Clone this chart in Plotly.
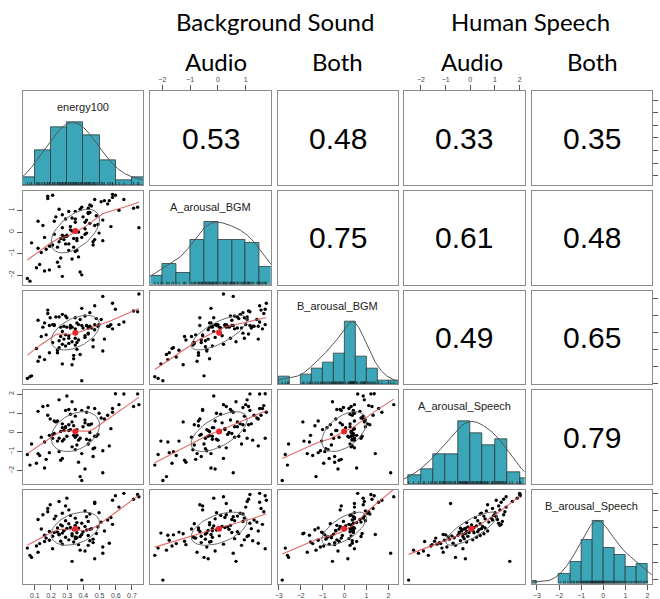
import numpy as np
import plotly.graph_objects as go

# ---------------- data ----------------
var_names = ["energy100", "A_arousal_BGM", "B_arousal_BGM", "A_arousal_Speech", "B_arousal_Speech"]

energy100 = [0.390, 0.330, 0.470, 0.080, 0.070, 0.520, 0.120, 0.410, 0.380, 0.210,
             0.054, 0.520, 0.110, 0.430, 0.370, 0.270, 0.130, 0.560, 0.460, 0.340,
             0.160, 0.260, 0.440, 0.190, 0.310, 0.460, 0.350, 0.170, 0.360, 0.290,
             0.350, 0.380, 0.210, 0.330, 0.430, 0.160, 0.250, 0.390, 0.250, 0.330,
             0.480, 0.270, 0.360, 0.220, 0.240, 0.398, 0.190, 0.530, 0.280, 0.280,
             0.420, 0.340, 0.440, 0.140, 0.450, 0.298, 0.370, 0.240, 0.320, 0.490,
             0.410, 0.270, 0.350, 0.260, 0.580, 0.310, 0.390, 0.360, 0.510, 0.430,
             0.290, 0.550, 0.120, 0.220, 0.350, 0.570, 0.420, 0.230, 0.320, 0.150,
             0.440, 0.270, 0.497, 0.180, 0.410, 0.310, 0.180, 0.620, 0.290, 0.195,
             0.470, 0.470, 0.250, 0.580, 0.710, 0.298, 0.743, 0.598, 0.735, 0.650]

A_arousal_BGM = [-1.98, 0.65, -0.35, -0.50, -2.27, 0.55, -0.75, -0.10, -1.85, 1.70,
                 -2.15, -0.40, -1.65, 0.85, -1.15, 0.20, -1.50, 1.45, -0.60, -0.30,
                 -0.25, -1.20, 1.25, -1.75, 0.95, -0.45, 0.60, -0.80, -0.85, -0.20,
                 -0.90, 1.05, -0.60, 0.05, 1.10, -1.80, -1.60, -0.25, -0.45, -1.25,
                 0.75, -2.05, -0.40, 0.50, -1.40, 0.70, -0.65, 1.45, -0.20, -0.35,
                 -0.05, -0.70, 0.40, -0.95, 1.20, -0.20, 0.00, -0.70, 0.25, 0.35,
                 0.15, -0.15, 0.45, -0.30, 1.60, -0.85, 1.15, -0.30, 1.40, 0.90,
                 0.60, 1.30, 0.50, -0.10, 0.95, 0.25, 0.55, 0.70, 0.10, 0.30,
                 0.90, 0.80, -0.05, 1.65, 0.45, -0.55, 1.55, 1.00, -0.55, -0.65,
                 0.30, 1.50, 1.05, 1.74, 1.10, -0.15, 0.20, 1.70, 1.15, 1.50]

B_arousal_BGM = [-2.84, -0.55, 0.15, -2.55, -2.60, 2.10, -1.70, -0.30, -1.30, 0.45,
                 -2.70, -1.10, -0.95, 0.25, -0.45, -0.70, -1.45, 0.35, -0.45, -1.55,
                 0.55, -0.25, 0.35, -1.20, -0.35, -0.85, 0.20, -0.15, -0.60, -0.80,
                 -0.75, 0.75, -0.60, 0.30, -0.10, -1.60, -0.90, 1.40, -0.50, -1.90,
                 0.80, -1.85, -1.00, 0.40, -1.05, 0.25, 0.40, -0.40, 0.35, -0.40,
                 0.40, -1.35, 0.30, -0.25, 0.25, 0.30, 0.45, -1.20, 0.40, 0.35,
                 -0.20, 0.05, -0.35, 0.30, 0.20, -0.65, 0.40, 0.55, 0.75, -0.05,
                 0.95, 0.35, 0.70, 0.45, 0.85, 0.45, 0.40, 0.90, 0.25, 0.30,
                 1.15, 1.05, 0.45, 1.10, 0.95, -0.20, 1.30, 0.45, -0.15, 0.85,
                 0.45, 1.55, 0.90, 1.70, 1.25, 0.85, 2.24, 1.35, 1.20, 0.60]

A_arousal_Speech = [-2.50, 1.60, -0.20, -0.60, -1.70, -2.10, -1.10, -1.90, -2.30, -0.30,
                    -1.15, -0.95, -1.60, -0.60, -1.55, -1.35, -1.20, -0.70, -1.25, -0.15,
                    -1.85, -1.45, -0.40, -1.05, 0.10, -0.85, -0.25, -1.40, -0.65, 0.25,
                    -0.90, -0.30, -0.10, -0.75, 0.40, -0.50, -1.00, -1.10, -0.30, 0.55,
                    -0.20, -0.45, 0.15, -0.05, -0.45, 0.30, -0.15, 0.70, -0.35, 0.10,
                    -0.35, 0.35, 0.00, -0.25, 0.45, -0.20, -0.40, 0.60, 0.15, -0.10,
                    0.50, 0.25, 1.20, 0.05, 1.25, 0.40, 1.15, -0.15, 0.75, 1.30,
                    0.30, 0.90, 1.10, 0.60, 0.85, 0.20, 1.05, 0.55, 0.95, 1.35,
                    0.40, 0.45, 1.00, 1.40, 0.65, 1.20, 0.90, 1.45, 1.15, 0.70,
                    -0.80, 1.25, 1.70, 1.05, 1.35, 1.90, 1.45, 2.02, 2.01, 2.00]

B_arousal_Speech = [-3.04, -1.95, -1.80, -1.72, -1.60, -1.48, -1.42, -1.35, -1.30, -1.22,
                    -1.18, -1.12, -1.06, -1.02, -0.98, -0.95, -0.92, -0.90, -0.86, -0.83,
                    -0.80, -0.78, -0.75, -0.72, -0.70, -0.66, -0.63, -0.60, -0.58, -0.55,
                    -0.53, -0.51, -0.49, -0.47, -0.45, -0.43, -0.41, -0.39, -0.37, -0.35,
                    -0.33, -0.31, -0.29, -0.27, -0.25, -0.23, -0.21, -0.19, -0.17, -0.15,
                    -0.13, -0.11, -0.09, -0.07, -0.05, -0.04, -0.02, -0.01, 0.02, 0.05,
                    0.08, 0.11, 0.14, 0.17, 0.20, 0.23, 0.26, 0.30, 0.33, 0.37,
                    0.41, 0.45, 0.48, 0.52, 0.56, 0.60, 0.64, 0.68, 0.72, 0.76,
                    0.80, 0.84, 0.88, 0.93, 0.98, 1.04, 1.12, 1.20, 1.27, 1.34,
                    1.41, 1.48, 1.53, 1.60, 1.66, 1.72, 1.80, 1.86, 1.93, 2.00]

# correlations printed in the upper triangle (row by row)
cor_upper = [[0.53, 0.48, 0.33, 0.35],
             [0.75, 0.61, 0.48],
             [0.49, 0.65],
             [0.79]]

group_titles = ["Background Sound", "Human Speech"]
condition_labels = ["Audio", "Both", "Audio", "Both"]

# ---------------- styling / layout ----------------
W, H = 660, 599
col_left = [20, 148, 276, 403, 531]
panel_w = 121
row_top = [92, 192.5, 293, 393.5, 494]
panel_h = 94.5
hist_step = [0.1, 0.5, 0.5, 0.5, 0.5]
tick_step = [0.1, 1, 1, 1, 1]

HIST_COL = "#3ba6b7"
FRAME = "#8c8c8c"
TICKC = "#555555"
SANS = "Liberation Sans, Arial, sans-serif"

data = [np.array(v, float) for v in (energy100, A_arousal_BGM, B_arousal_BGM,
                                     A_arousal_Speech, B_arousal_Speech)]
N = len(data)


def padded(v):
    lo, hi = v.min(), v.max()
    r = hi - lo
    return [lo - 0.04 * r, hi + 0.04 * r]


def hist_r(v, step):
    lo = np.floor(v.min() / step + 1e-9) * step
    hi = np.ceil(v.max() / step - 1e-9) * step
    nb = int(round((hi - lo) / step))
    edges = lo + step * np.arange(nb + 1)
    idx = np.searchsorted(edges, v, side="left") - 1
    idx = np.clip(idx, 0, nb - 1)
    counts = np.bincount(idx, minlength=nb)
    return edges, counts


def density_curve(v):
    n = len(v)
    sd = v.std(ddof=1)
    q75, q25 = np.percentile(v, [75, 25])
    bw = 1.06 * min(sd, (q75 - q25) / 1.34) * n ** -0.2 * 1.2
    grid = np.linspace(v.min() - 3 * bw, v.max() + 3 * bw, 512)
    d = np.exp(-0.5 * ((grid[:, None] - v[None, :]) / bw) ** 2).sum(1)
    return grid, d / d.max()


def lowess(x, y, f=2 / 3, it=3):
    o = np.argsort(x, kind="stable")
    x = x[o]
    y = y[o]
    n = len(x)
    r = max(int(np.ceil(f * n)), 2)
    h = np.array([np.sort(np.abs(x - x[i]))[r - 1] for i in range(n)])
    h = np.maximum(h, 1e-12)
    w = np.clip(np.abs((x[:, None] - x[None, :]) / h[:, None]), 0, 1)
    w = (1 - w ** 3) ** 3
    yest = np.zeros(n)
    delta = np.ones(n)
    for _ in range(it + 1):
        for i in range(n):
            ww = delta * w[i]
            A = np.array([[ww.sum(), (ww * x).sum()], [(ww * x).sum(), (ww * x * x).sum()]])
            b = np.array([(ww * y).sum(), (ww * y * x).sum()])
            beta = np.linalg.lstsq(A, b, rcond=None)[0]
            yest[i] = beta[0] + beta[1] * x[i]
        res = y - yest
        s = np.median(np.abs(res))
        dd = np.clip(res / (6.0 * s), -1, 1)
        delta = (1 - dd ** 2) ** 2
    return x, yest


def ellipse_pts(x, y, seg=51):
    xm, ym = x.mean(), y.mean()
    xs, ys = x.std(ddof=1), y.std(ddof=1)
    r = np.corrcoef(x, y)[0, 1]
    th = np.sign(r) / np.sqrt(2) if abs(r) > 0 else 1 / np.sqrt(2)
    ang = np.arange(seg + 1) * 2 * np.pi / seg
    uc = np.column_stack([np.cos(ang), np.sin(ang)])
    shape = np.diag([np.sqrt(1 + r), np.sqrt(1 - r)]) @ np.array([[th, th], [-th, th]])
    e = uc @ shape
    return e[:, 0] * xs + xm, e[:, 1] * ys + ym, xm, ym


def sfx(k):
    return "" if k == 1 else str(k)


fig = go.Figure()
layout_axes = {}
annotations = []

for i in range(N):
    for j in range(N):
        k = i * N + j + 1
        xa, ya = "x" + sfx(k), "y" + sfx(k)
        xr = padded(data[j])
        yr = [0, 1.5] if i == j else padded(data[i])
        x0 = col_left[j] / W
        x1 = (col_left[j] + panel_w) / W
        y1 = 1 - row_top[i] / H
        y0 = 1 - (row_top[i] + panel_h) / H
        base = dict(showgrid=False, zeroline=False, showline=True, mirror=True,
                    linecolor=FRAME, linewidth=1, ticks="", showticklabels=False,
                    fixedrange=True)
        xax = dict(base, domain=[x0, x1], range=xr, anchor=ya)
        yax = dict(base, domain=[y0, y1], range=yr, anchor=xa)
        tickstyle = dict(ticks="outside", ticklen=5, tickwidth=1, tickcolor=TICKC,
                         tickfont=dict(family=SANS, size=7, color="#444"))
        # outer axes alternate sides, as in R pairs()
        if i == 0 and j % 2 == 1:
            xax.update(tickstyle, side="top", showticklabels=True, tickmode="linear",
                       tick0=0, dtick=tick_step[j])
        if i == N - 1 and j % 2 == 0:
            xax.update(tickstyle, side="bottom", showticklabels=True, tickmode="linear",
                       tick0=0, dtick=tick_step[j])
        if j == 0 and i % 2 == 1:
            yax.update(tickstyle, side="left", showticklabels=True, tickmode="linear",
                       tick0=0, dtick=tick_step[i], tickangle=-90)
        if j == N - 1 and i % 2 == 0 and i != j:
            yax.update(tickstyle, side="right", showticklabels=False, tickmode="linear",
                       tick0=0, dtick=tick_step[i])
        layout_axes["xaxis" + sfx(k)] = xax
        layout_axes["yaxis" + sfx(k)] = yax

        if i == j:
            v = data[i]
            edges, counts = hist_r(v, hist_step[i])
            hts = counts / counts.max()
            centers = (edges[:-1] + edges[1:]) / 2
            m = counts > 0
            fig.add_trace(go.Bar(x=centers[m], y=hts[m], width=hist_step[i],
                                 marker=dict(color=HIST_COL, line=dict(color="#2d3b3e", width=0.8)),
                                 xaxis=xa, yaxis=ya, showlegend=False, hoverinfo="skip"))
            gx, gy = density_curve(v)
            fig.add_trace(go.Scatter(x=gx, y=gy, mode="lines",
                                     line=dict(color="#555555", width=1),
                                     xaxis=xa, yaxis=ya, showlegend=False, hoverinfo="skip"))
            rx, ry = [], []
            for val in v:
                rx += [val, val, None]
                ry += [0, 0.045, None]
            fig.add_trace(go.Scatter(x=rx, y=ry, mode="lines",
                                     line=dict(color="#1a2a2c", width=0.7),
                                     xaxis=xa, yaxis=ya, showlegend=False, hoverinfo="skip"))
            annotations.append(dict(text=var_names[i], xref=xa + " domain", yref=ya + " domain",
                                    x=0.5, y=0.83, showarrow=False, xanchor="center",
                                    yanchor="middle",
                                    font=dict(family=SANS, size=11, color="#222")))
        elif i > j:
            x = data[j]
            y = data[i]
            fig.add_trace(go.Scatter(x=x, y=y, mode="markers",
                                     marker=dict(color="black", size=3.4),
                                     xaxis=xa, yaxis=ya, showlegend=False, hoverinfo="skip"))
            lx, ly = lowess(x, y)
            fig.add_trace(go.Scatter(x=lx, y=ly, mode="lines",
                                     line=dict(color="rgba(222,80,80,0.85)", width=1.1),
                                     xaxis=xa, yaxis=ya, showlegend=False, hoverinfo="skip"))
            ex, ey, xm, ym = ellipse_pts(x, y)
            fig.add_trace(go.Scatter(x=ex, y=ey, mode="lines",
                                     line=dict(color="#6e6e6e", width=1),
                                     xaxis=xa, yaxis=ya, showlegend=False, hoverinfo="skip"))
            fig.add_trace(go.Scatter(x=[xm], y=[ym], mode="markers",
                                     marker=dict(color="#e8262b", size=6),
                                     xaxis=xa, yaxis=ya, showlegend=False, hoverinfo="skip"))
        else:
            fig.add_trace(go.Scatter(x=[None], y=[None], mode="markers",
                                     xaxis=xa, yaxis=ya, showlegend=False, hoverinfo="skip"))
            rv = cor_upper[i][j - i - 1]
            annotations.append(dict(text=f"{rv:.2f}", xref=xa + " domain", yref=ya + " domain",
                                    x=0.5, y=0.5, showarrow=False, xanchor="center",
                                    yanchor="middle",
                                    font=dict(family=SANS, size=30, color="black")))

# right-side ticks of the last row (variable scale over the histogram panel)
kk = N * N
ov = N * N + 1
layout_axes["yaxis" + str(ov)] = dict(overlaying="y" + str(kk), anchor="x" + str(kk), side="right",
                                      range=padded(data[N - 1]), showgrid=False, zeroline=False,
                                      showline=False, ticks="outside", ticklen=5, tickwidth=1,
                                      tickcolor=TICKC, showticklabels=False, tickmode="linear",
                                      tick0=0, dtick=tick_step[N - 1], fixedrange=True)
fig.add_trace(go.Scatter(x=[None], y=[None], mode="markers", xaxis="x" + str(kk),
                         yaxis="y" + str(ov), showlegend=False, hoverinfo="skip"))

# header texts
HEAD = "Lato, Carlito, Open Sans, sans-serif"
group_centers = [273, 530]
cond_centers = [214, 336, 471, 592]
for t, cx in zip(group_titles, group_centers):
    annotations.append(dict(text=t, xref="paper", yref="paper", x=cx / W, y=1 - 22 / H,
                            showarrow=False, xanchor="center", yanchor="middle",
                            font=dict(family=HEAD, size=24, color="black")))
for t, cx in zip(condition_labels, cond_centers):
    annotations.append(dict(text=t, xref="paper", yref="paper", x=cx / W, y=1 - 62 / H,
                            showarrow=False, xanchor="center", yanchor="middle",
                            font=dict(family=HEAD, size=24, color="black")))

fig.update_layout(width=W, height=H, margin=dict(l=0, r=0, t=0, b=0),
                  paper_bgcolor="white", plot_bgcolor="white", showlegend=False,
                  bargap=0, annotations=annotations, **layout_axes)

fig.write_html("out.html", config={"displayModeBar": False})
